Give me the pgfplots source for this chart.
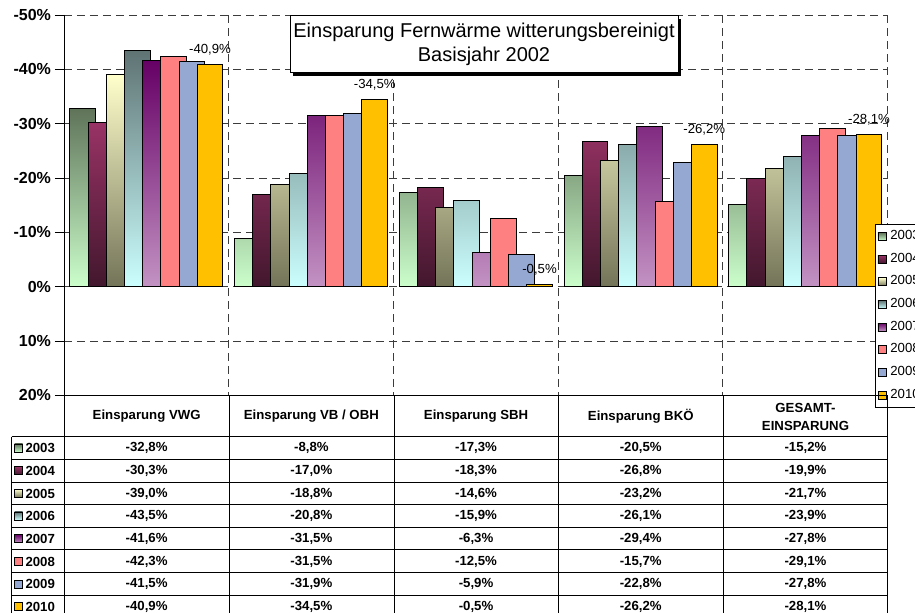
\documentclass[border=0pt]{standalone}
\usepackage{fontspec}
\setmainfont{Liberation Sans}
\usepackage{pgfplots}
\usepackage{pgfplotstable}
\pgfplotsset{compat=1.18}
\usetikzlibrary{shadows}

\definecolor{c03a}{HTML}{5F7359}\definecolor{c03b}{HTML}{CCFFCC}
\definecolor{c04a}{HTML}{993366}\definecolor{c04b}{HTML}{42172D}
\definecolor{c05a}{HTML}{FFFFCC}\definecolor{c05b}{HTML}{737358}
\definecolor{c06a}{HTML}{5F7373}\definecolor{c06b}{HTML}{CCFFFF}
\definecolor{c07a}{HTML}{660066}\definecolor{c07b}{HTML}{C393C3}
\definecolor{c08}{HTML}{FF8080}
\definecolor{c09}{HTML}{95A8D2}
\definecolor{c10}{HTML}{FFC000}
\definecolor{gridc}{HTML}{3C3C3C}

\tikzset{
  f2003/.style={top color=c03a, bottom color=c03b},
  f2004/.style={top color=c04a, bottom color=c04b},
  f2005/.style={top color=c05a, bottom color=c05b},
  f2006/.style={top color=c06a, bottom color=c06b},
  f2007/.style={top color=c07a, bottom color=c07b},
  f2008/.style={fill=c08},
  f2009/.style={fill=c09},
  f2010/.style={fill=c10},
}

% savings vs. 2002 in percent, one row per area, one column per year
\pgfplotstableread{
cat y2003 y2004 y2005 y2006 y2007 y2008 y2009 y2010
0 -32.8 -30.3 -39.0 -43.5 -41.6 -42.3 -41.5 -40.9
1 -8.8 -17.0 -18.8 -20.8 -31.5 -31.5 -31.9 -34.5
2 -17.3 -18.3 -14.6 -15.9 -6.3 -12.5 -5.9 -0.5
3 -20.5 -26.8 -23.2 -26.1 -29.4 -15.7 -22.8 -26.2
4 -15.2 -19.9 -21.7 -23.9 -27.8 -29.1 -27.8 -28.1
}\savings

\newcommand{\tabfont}{\fontsize{6.6}{9}\selectfont\bfseries}

\begin{document}
\begin{tikzpicture}
\path[use as bounding box] (0,0) rectangle (457.5pt,306.5pt);
\clip (0,0) rectangle (457.5pt,306.5pt);

\begin{axis}[
  at={(32pt,108.75pt)}, anchor=south west,
  scale only axis, width=411.85pt, height=190.25pt,
  xmin=-0.5, xmax=4.5, ymin=-50, ymax=20, y dir=reverse,
  axis line style={draw=none},
  /pgf/number format/assume math mode=true,
  ytick={-50,-40,...,20}, ytick pos=left, tick align=outside,
  major tick length=4.5pt, tick style={black, line width=0.5pt},
  yticklabel={\textbf{\pgfmathprintnumber{\tick}\%}},
  yticklabel style={font=\fontsize{8}{9}\selectfont, xshift=1.5pt},
  xtick=\empty,
  extra x ticks={0.5,1.5,2.5,3.5,4.5}, extra x tick labels={},
  extra x tick style={grid=major, major tick length=0pt},
  ymajorgrids,
  grid style={gridc, line width=0.5pt, dash pattern=on 4pt off 2.5pt},
  ybar, bar width=12.85pt,
  every axis plot/.append style={draw=black, line width=0.5pt},
  legend style={at={(0.9846,0.4507)}, anchor=north west, draw=black,
    line width=0.5pt, fill=white, inner sep=1pt, row sep=1.2pt,
    font=\fontsize{6.6}{7.6}\selectfont},
  legend image code/.code={\draw[#1, draw=black, line width=0.4pt] (0pt,-2pt) rectangle (4pt,2pt);},
]
\addplot[f2003, bar shift=-31.85pt] table[x=cat, y=y2003]{\savings};
\addplot[f2004, bar shift=-22.75pt] table[x=cat, y=y2004]{\savings};
\addplot[f2005, bar shift=-13.65pt] table[x=cat, y=y2005]{\savings};
\addplot[f2006, bar shift=-4.55pt] table[x=cat, y=y2006]{\savings};
\addplot[f2007, bar shift=4.55pt] table[x=cat, y=y2007]{\savings};
\addplot[f2008, bar shift=13.65pt] table[x=cat, y=y2008]{\savings};
\addplot[f2009, bar shift=22.75pt] table[x=cat, y=y2009]{\savings};
\addplot[f2010, bar shift=31.85pt,
  nodes near coords={\pgfmathprintnumber[use comma, fixed, fixed zerofill, precision=1]{\pgfplotspointmeta}\%},
  every node near coord/.append style={anchor=south, yshift=1pt, font=\fontsize{6.6}{7.6}\selectfont}]
  table[x=cat, y=y2010]{\savings};
\legend{2003,2004,2005,2006,2007,2008,2009,2010}
\end{axis}

% data table below the chart, in pixel units of the reference (y downward)
\begin{scope}[x=0.5pt, y=-0.5pt, shift={(0,306.5pt)}, line width=0.5pt]
  \draw (64,15) -- (64,620);
  \draw (64,395.5) -- (887.7,395.5);
  \draw (11.7,436.7) -- (887.7,436.7);
  \foreach \r in {1,...,8} \draw (11.7,{436.7+\r*22.66}) -- (887.7,{436.7+\r*22.66});
  \foreach \x in {229.3,394.3,558.7,723.3,887.7} \draw (\x,395.5) -- (\x,620);
  \draw (11.7,436.7) -- (11.7,620);
  \foreach \t [count=\c from 0] in {Einsparung VWG,Einsparung VB / OBH,Einsparung SBH,Einsparung BKÖ}
    \node[font=\tabfont] at ({146.65+\c*164.7},416.5) {\t};
  \node[font=\tabfont, align=center] at (805.5,416.5) {GESAMT-\\EINSPARUNG};
  \foreach \yr [count=\i from 0] in {2003,2004,2005,2006,2007,2008,2009,2010} {
    \draw[f\yr, draw=black, line width=0.4pt] (14.5,{444+\i*22.66}) rectangle (22.5,{452+\i*22.66});
    \node[font=\tabfont, anchor=west, inner sep=0pt] at (25,{448.3+\i*22.66}) {\yr};
    \foreach \c in {0,...,4} {
      \pgfplotstablegetelem{\c}{y\yr}\of\savings
      \edef\val{\pgfplotsretval}
      \node[font=\tabfont] at ({146.65+\c*164.7},{448.3+\i*22.66})
        {\pgfmathprintnumber[use comma, fixed, fixed zerofill, precision=1, assume math mode=true]{\val}\%};
    }
  }
  \node[draw=black, fill=white, line width=0.5pt, align=center,
    minimum width=194pt, minimum height=28.5pt, inner sep=0pt,
    font=\fontsize{10}{12}\selectfont,
    drop shadow={shadow xshift=1.5pt, shadow yshift=-1.5pt, fill=black, opacity=1}]
    at (484,44.5) {Einsparung Fernwärme witterungsbereinigt\\Basisjahr 2002};
\end{scope}
\end{tikzpicture}
\end{document}
